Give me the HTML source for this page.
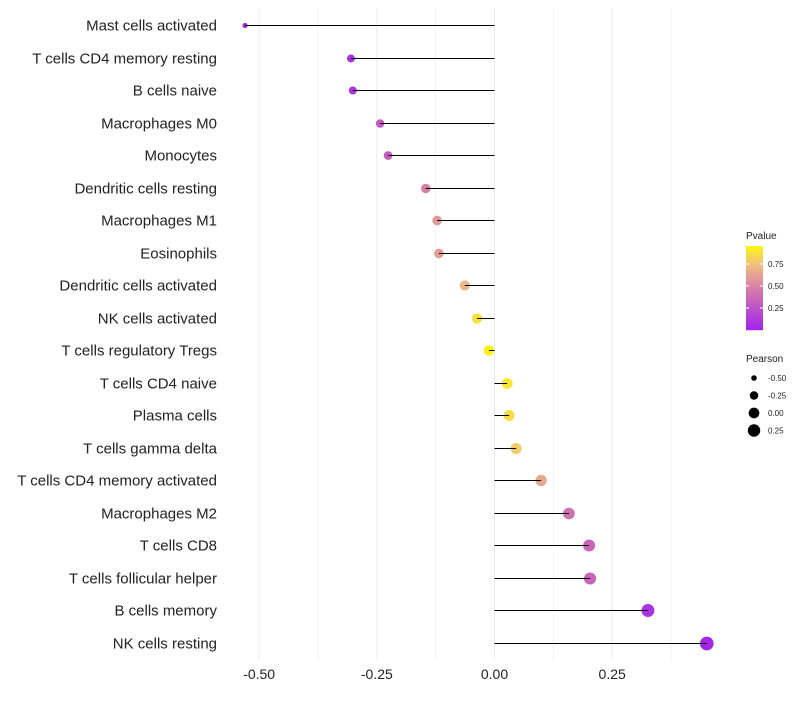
<!DOCTYPE html>
<html><head><meta charset="utf-8"><style>
body{margin:0;background:#fff;font-family:"Liberation Sans",sans-serif}
</style></head><body>
<svg id="c" width="800" height="700" xmlns="http://www.w3.org/2000/svg" font-family="Liberation Sans, sans-serif"></svg>
<script>
const categories=["Mast cells activated","T cells CD4 memory resting","B cells naive","Macrophages M0","Monocytes","Dendritic cells resting","Macrophages M1","Eosinophils","Dendritic cells activated","NK cells activated","T cells regulatory  Tregs","T cells CD4 naive","Plasma cells","T cells gamma delta","T cells CD4 memory activated","Macrophages M2","T cells CD8","T cells follicular helper","B cells memory","NK cells resting"];
const pearson=[-0.530,-0.305,-0.301,-0.243,-0.226,-0.146,-0.122,-0.118,-0.063,-0.037,-0.012,0.027,0.031,0.046,0.099,0.158,0.201,0.203,0.326,0.451];
const pvalues=[0.01,0.08,0.1,0.3,0.32,0.5,0.6,0.62,0.72,0.88,0.95,0.9,0.86,0.8,0.66,0.42,0.36,0.36,0.1,0.03];
const xTicks=[-0.5,-0.25,0,0.25];
const xTickLabels=["-0.50","-0.25","0.00","0.25"];
const colorTicks=[0.25,0.5,0.75];
const sizeTicks=[-0.5,-0.25,0,0.25];
const sizeTickLabels=["-0.50","-0.25","0.00","0.25"];

const svg=document.getElementById('c');const NS="http://www.w3.org/2000/svg";
function mk(t,a,p){const e=document.createElementNS(NS,t);for(const k in a)e.setAttribute(k,a[k]);(p||svg).appendChild(e);return e;}
const x=v=>494.5+v*470.7;
const y=i=>Math.round(25+i*32.5)+0.5;
const pY=p=>330-p*88;
const rad=v=>Math.sqrt(Math.max(4,16+41*(v+0.3)));
function lerp(a,b,t){return a.map((v,i)=>Math.round(v+(b[i]-v)*t));}
function col(p){const s=[[0,[160,32,240]],[0.5,[215,128,165]],[0.75,[240,190,130]],[1,[255,255,0]]];for(let i=0;i<s.length-1;i++){if(p<=s[i+1][0]){const c=lerp(s[i][1],s[i+1][1],(p-s[i][0])/(s[i+1][0]-s[i][0]));return `rgb(${c})`;}}return 'rgb(255,255,0)';}
const g=mk('g',{});
for(let v=-0.5;v<=0.4;v+=0.125){mk('line',{x1:x(v),x2:x(v),y1:8,y2:660,stroke:'#ebebeb','stroke-width':Math.abs((v*8)%2)<0.01?1:0.6},g);}
xTicks.forEach((v,i)=>{const t=mk('text',{x:x(v),y:679,'text-anchor':'middle','font-size':14,fill:'#222'});t.textContent=xTickLabels[i];});
categories.forEach((c,i)=>{
 const t=mk('text',{x:217,y:y(i)+5,'text-anchor':'end','font-size':15,fill:'#222'});t.textContent=c;
 
 const d=mk('circle',{cx:x(pearson[i]),cy:y(i),r:rad(pearson[i]),fill:col(pvalues[i])});
 
 const l=mk('line',{x1:x(0),x2:x(pearson[i]),y1:y(i),y2:y(i),stroke:'#000','stroke-width':1});
 
});
const lt=mk('text',{x:746,y:239,'font-size':10,fill:'#222'});lt.textContent='Pvalue';
for(let k=0;k<84;k++){const p=0.96-k/84*0.95;mk('rect',{x:746,y:246+k,width:17,height:1.2,fill:col(p)});}
colorTicks.forEach(p=>{mk('line',{x1:746,x2:749,y1:pY(p),y2:pY(p),stroke:'#fff'});mk('line',{x1:760,x2:763,y1:pY(p),y2:pY(p),stroke:'#fff'});const t=mk('text',{x:768,y:pY(p)+3,'font-size':8,fill:'#222'});t.textContent=p.toFixed(2);});
const st=mk('text',{x:746,y:362,'font-size':10,fill:'#222'});st.textContent='Pearson';
sizeTicks.forEach((v,i)=>{const cy=378+i*17.5;const c=mk('circle',{cx:754,cy:cy,r:rad(v),fill:'#000'});const t=mk('text',{x:768,y:cy+3,'font-size':8,fill:'#222'});t.textContent=sizeTickLabels[i];});
</script>
</body></html>
